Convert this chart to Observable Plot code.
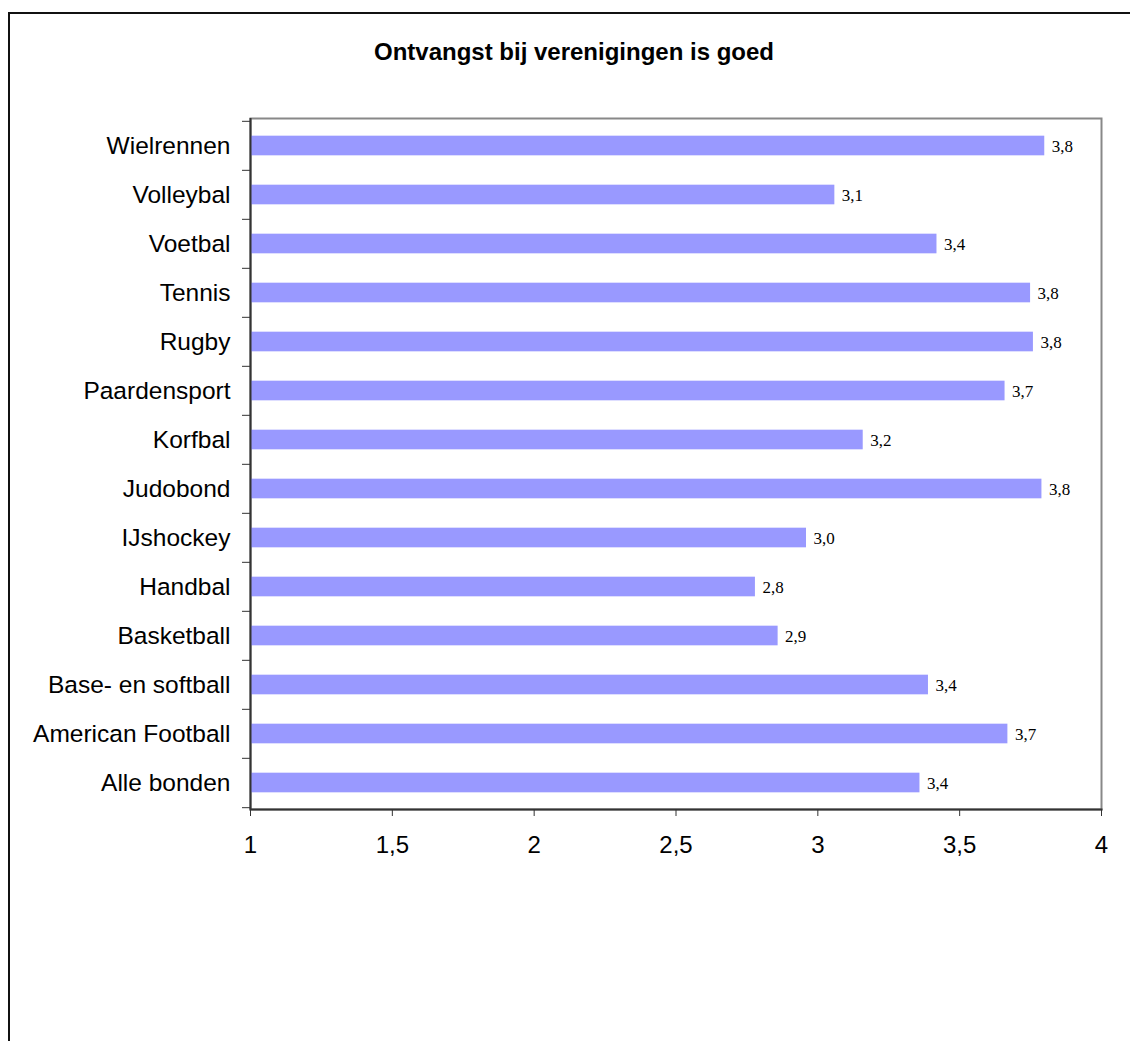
<!DOCTYPE html>
<html>
<head>
<meta charset="utf-8">
<script src="https://cdn.jsdelivr.net/npm/d3@7"></script>
<script src="https://cdn.jsdelivr.net/npm/@observablehq/plot@0.6"></script>
<style>
  html, body { margin: 0; padding: 0; background: #fff; }
  #page { position: relative; width: 1130px; height: 1041px; overflow: hidden; }
  #outer { position: absolute; left: 8px; top: 12px; width: 1130px; height: 1040px;
           border-top: 2px solid #111; border-left: 2px solid #111; box-sizing: border-box; }
  #title { position: absolute; left: 0; top: 38px; width: 1148px; text-align: center; line-height: normal;
           font: bold 24px "Liberation Sans", Arial, sans-serif; color: #000; }
  #chart { position: absolute; left: 0; top: 0; }
</style>
</head>
<body>
<div id="page">
  <div id="outer"></div>
  <div id="title">Ontvangst bij verenigingen is goed</div>
  <div id="chart"></div>
</div>
<script>
const categories = ["Wielrennen", "Volleybal", "Voetbal", "Tennis", "Rugby", "Paardensport", "Korfbal",
  "Judobond", "IJshockey", "Handbal", "Basketball", "Base- en softball", "American Football", "Alle bonden"];
const values = [3.80, 3.06, 3.42, 3.75, 3.76, 3.66, 3.16, 3.79, 2.96, 2.78, 2.86, 3.39, 3.67, 3.36];
const xTicks = [1, 1.5, 2, 2.5, 3, 3.5, 4];

const data = categories.map((name, i) => ({name, value: values[i]}));
const comma = d => String(d).replace(".", ",");
const fmt1 = d => d3.format(".1f")(d).replace(".", ",");

const width = 1130, height = 1041;
const mTop = 118, mBottom = 232, mLeft = 250, mRight = 29;
const bw = (height - mTop - mBottom) / categories.length;
const barH = 20;
const inset = (bw - barH) / 2;

const chart = Plot.plot({
  width, height,
  marginTop: mTop, marginBottom: mBottom, marginLeft: mLeft, marginRight: mRight,
  style: {fontFamily: "'Liberation Sans', Arial, sans-serif", background: "transparent", overflow: "visible"},
  x: {domain: [1, 4]},
  y: {domain: categories, padding: 0},
  marks: [
    Plot.frame({stroke: "#888", strokeWidth: 2}),
    Plot.barX(data, {x1: 1, x2: "value", y: "name", fill: "#9999FF", insetTop: inset, insetBottom: inset}),
    Plot.text(data, {x: "value", y: "name", text: d => fmt1(d.value), dx: 7, dy: 1, textAnchor: "start",
      fontFamily: "'Liberation Serif', 'Times New Roman', serif", fontSize: 17, fill: "#000"}),
    Plot.ruleX([1], {stroke: "#333", strokeWidth: 2}),
    Plot.frame({anchor: "bottom", stroke: "#333", strokeWidth: 2}),
    Plot.axisY({tickSize: 8, text: null, label: null, dy: -bw / 2, stroke: "#333"}),
    Plot.axisY({ticks: [categories[categories.length - 1]], tickSize: 8, text: null, label: null, dy: bw / 2, stroke: "#333"}),
    Plot.axisY({tickSize: 0, tickPadding: 20, label: null, fontSize: 24.5, fill: "#000"}),
    Plot.axisX({ticks: xTicks, tickSize: 7, tickPadding: 19, tickFormat: comma, label: null, fontSize: 24, fill: "#000", stroke: "#333"})
  ]
});
document.getElementById("chart").appendChild(chart);
</script>
</body>
</html>
